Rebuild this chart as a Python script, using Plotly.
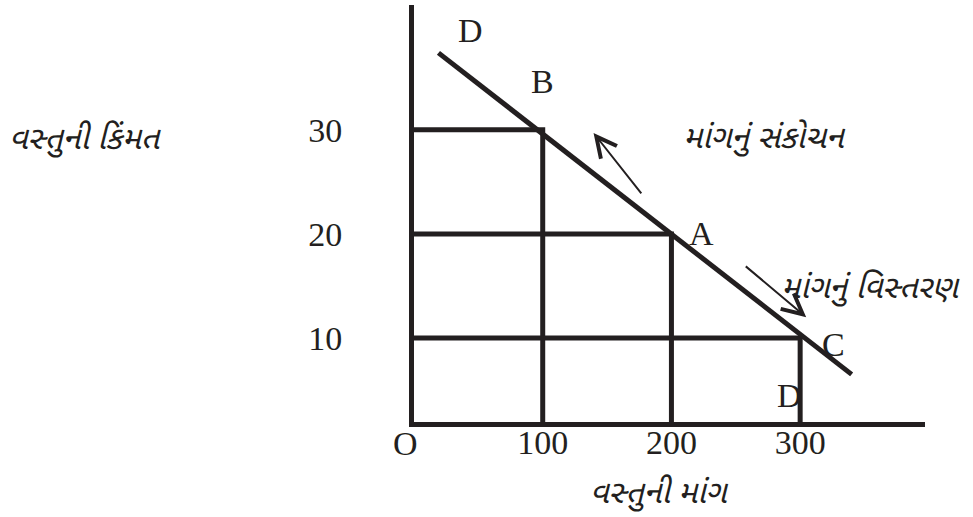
import plotly.graph_objects as go

# price / quantity points on the demand curve (A, B, C)
quantity = [100, 200, 300]
price = [30, 20, 10]
point_labels = ["B", "A", "C"]

# demand curve end points
curve_x = [19, 340]
curve_y = [37.4, 6.5]

x_ticks = [100, 200, 300]
y_ticks = [10, 20, 30]

INK = "#231f20"
SERIF = "Liberation Serif, Times New Roman, serif"
GUJ = "Noto Sans Gujarati, Lohit Gujarati, Noto Sans, sans-serif"
NUM_SIZE = 34
GUJ_SIZE = 32

X_RANGE = [0, 397]
Y_RANGE = [1.92, 42.0]
BASE = Y_RANGE[0]

fig = go.Figure()

# guide lines from the axes to each point
for q, p in zip(quantity, price):
    fig.add_trace(go.Scatter(
        x=[0, q, q], y=[p, p, BASE], mode="lines",
        line=dict(color=INK, width=5), hoverinfo="skip",
    ))

# demand curve
fig.add_trace(go.Scatter(
    x=curve_x, y=curve_y, mode="lines",
    line=dict(color=INK, width=5), hoverinfo="skip",
))

annotations = []

# point letters
label_offsets = {"B": (0, 48), "A": (30, 0), "C": (33, -7)}
for q, p, lab in zip(quantity, price, point_labels):
    dx, dy = label_offsets[lab]
    annotations.append(dict(
        x=q, y=p, text=lab, showarrow=False, xshift=dx, yshift=dy,
        font=dict(family=SERIF, size=NUM_SIZE, color=INK),
    ))
# the two D labels at the ends of the curve
annotations.append(dict(
    x=curve_x[0], y=curve_y[0], text="D", showarrow=False, xshift=32, yshift=22,
    font=dict(family=SERIF, size=NUM_SIZE, color=INK),
))
annotations.append(dict(
    x=quantity[-1], y=BASE, text="D", showarrow=False, xshift=-11, yshift=27,
    font=dict(family=SERIF, size=NUM_SIZE, color=INK),
))

# origin label
annotations.append(dict(
    x=0, y=BASE, text="O", showarrow=False, xshift=-9, yshift=-21,
    font=dict(family=SERIF, size=NUM_SIZE, color=INK),
))

# movement arrows
annotations.append(dict(
    x=139.5, y=29.7, ax=177.5, ay=23.75, xref="x", yref="y", axref="x", ayref="y",
    showarrow=True, arrowhead=5, arrowsize=2.0, arrowwidth=2, arrowcolor=INK, text="",
))
annotations.append(dict(
    x=304.7, y=12.0, ax=256.6, ay=17.0, xref="x", yref="y", axref="x", ayref="y",
    showarrow=True, arrowhead=5, arrowsize=2.0, arrowwidth=2, arrowcolor=INK, text="",
))

# Gujarati captions
guj_font = dict(family=GUJ, size=GUJ_SIZE, color=INK)
annotations.append(dict(
    x=272, y=29.0, text="<i>માંગનું સંકોચન</i>", showarrow=False, font=guj_font,
))
annotations.append(dict(
    x=355, y=14.6, text="<i>માંગનું વિસ્તરણ</i>", showarrow=False, font=guj_font,
))
annotations.append(dict(
    xref="paper", x=0, y=29.3, text="<i>વસ્તુની કિંમત</i>", showarrow=False,
    xanchor="center", xshift=-329, yshift=-4, font=guj_font,
))
annotations.append(dict(
    x=190, yref="paper", y=0, text="<i>વસ્તુની માંગ</i>", showarrow=False,
    yshift=-96, font=guj_font,
))

fig.update_xaxes(
    range=X_RANGE, showgrid=False, zeroline=False, automargin=False,
    showline=True, linewidth=5, linecolor=INK,
    tickvals=x_ticks, ticktext=[str(v) for v in x_ticks], ticks="", ticklen=0,
    ticklabelstandoff=-14,
    tickfont=dict(family=SERIF, size=NUM_SIZE, color=INK),
)
fig.update_yaxes(
    range=Y_RANGE, showgrid=False, zeroline=False, automargin=False,
    showline=True, linewidth=5, linecolor=INK,
    tickvals=y_ticks, ticktext=[str(v) for v in y_ticks], ticks="", ticklen=0,
    ticklabelstandoff=60,
    tickfont=dict(family=SERIF, size=NUM_SIZE, color=INK),
)

fig.update_layout(
    width=973, height=517,
    margin=dict(l=414, r=48, t=5, b=95),
    paper_bgcolor="white", plot_bgcolor="white",
    showlegend=False,
    annotations=annotations,
)

# drop the page's default body margin so the figure sits at the window corner
fig.write_html(
    "out.html",
    config={"displayModeBar": False},
    post_script="document.body.style.margin = '0';",
)
